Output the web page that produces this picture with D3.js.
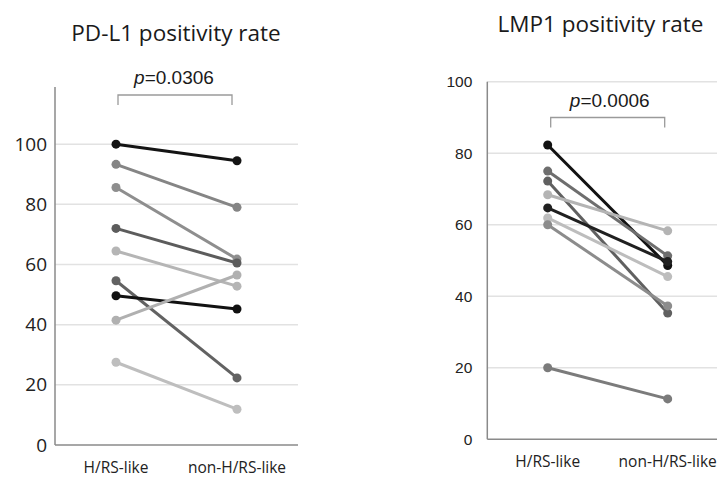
<!DOCTYPE html>
<html>
<head>
<meta charset="utf-8">
<script src="https://cdn.jsdelivr.net/npm/d3@7"></script>
<style>
  body { margin: 0; background: #fff; }
  svg { display: block; }
</style>
</head>
<body>
<div id="chart"></div>
<script>
// categories on the x axis
var groups = ["H/RS-like", "non-H/RS-like"];

// PD-L1 positivity rate (%), one pair per case
var pdl1HRS    = [100, 93.3, 85.6, 72.0, 64.5, 54.6, 49.6, 41.5, 27.5];
var pdl1NonHRS = [94.5, 79.0, 61.8, 60.5, 52.8, 22.3, 45.2, 56.5, 11.9];

// LMP1 positivity rate (%), one pair per case
var lmp1HRS    = [82.3, 75.0, 72.2, 68.4, 64.7, 61.9, 60.0, 20.0];
var lmp1NonHRS = [48.6, 51.3, 35.3, 58.3, 49.7, 45.5, 37.3, 11.3];

var pdl1Ticks = [0, 20, 40, 60, 80, 100];
var lmp1Ticks = [0, 20, 40, 60, 80, 100];

var pdl1Title = "PD-L1 positivity rate", pdl1P = "0.0306";
var lmp1Title = "LMP1 positivity rate",  lmp1P = "0.0006";

// grey shade of each case line (style only)
var pdl1Shades = ["#141414", "#858585", "#8e8e8e", "#5c5c5c", "#b5b5b5", "#626262", "#111111", "#b0b0b0", "#bebebe"];
var lmp1Shades = ["#121212", "#6e6e6e", "#606060", "#b4b4b4", "#202020", "#bdbdbd", "#8c8c8c", "#7b7b7b"];

var svg = d3.select("#chart").append("svg")
    .attr("width", 717)
    .attr("height", 477);

function drawPanel(opt){
    var g = svg.append("g");

    var x = d3.scalePoint().domain(groups).range(opt.xRange);
    var y = d3.scaleLinear().domain(opt.yDomain).range(opt.yRange);

    // grid lines
    g.selectAll("line.grid")
        .data(opt.ticks.filter(function(t){ return t > 0; }))
        .enter().append("line")
        .attr("class", "grid")
        .attr("x1", opt.left).attr("x2", opt.right)
        .attr("y1", function(d){ return y(d); })
        .attr("y2", function(d){ return y(d); })
        .attr("stroke", "#e2e2e2")
        .attr("stroke-width", 1.5);

    // y axis
    var yAxis = d3.axisLeft(y).tickValues(opt.ticks).tickSize(0).tickPadding(opt.tickPad);
    var yg = g.append("g")
        .attr("transform", "translate(" + opt.left + ",0)")
        .call(yAxis);
    yg.select(".domain").remove();
    yg.selectAll("text")
        .attr("font-family", opt.tickFont)
        .attr("font-size", opt.tickSize)
        .attr("fill", "#222");

    g.append("line")
        .attr("x1", opt.left).attr("x2", opt.left)
        .attr("y1", y(opt.yDomain[0])).attr("y2", y(opt.yDomain[1]))
        .attr("stroke", "#8a8a8a").attr("stroke-width", 1.5);
    g.append("line")
        .attr("x1", opt.left).attr("x2", opt.right)
        .attr("y1", y(0)).attr("y2", y(0))
        .attr("stroke", "#8a8a8a").attr("stroke-width", 1.5);

    // x labels
    g.selectAll("text.xlab")
        .data(groups)
        .enter().append("text")
        .attr("class", "xlab")
        .attr("x", function(d){ return x(d); })
        .attr("y", opt.xLabelY)
        .attr("text-anchor", "middle")
        .attr("font-family", "Open Sans, sans-serif")
        .attr("font-size", 15.5)
        .attr("fill", "#222")
        .text(function(d){ return d; });

    // paired lines
    var pairs = opt.first.map(function(v, i){ return { a: v, b: opt.second[i], c: opt.shades[i] }; });
    var series = g.selectAll("g.case")
        .data(pairs)
        .enter().append("g")
        .attr("class", "case");

    series.append("line")
        .attr("x1", x(groups[0])).attr("x2", x(groups[1]))
        .attr("y1", function(d){ return y(d.a); })
        .attr("y2", function(d){ return y(d.b); })
        .attr("stroke", function(d){ return d.c; })
        .attr("stroke-width", 3);

    series.selectAll("circle")
        .data(function(d){ return [{ k: groups[0], v: d.a, c: d.c }, { k: groups[1], v: d.b, c: d.c }]; })
        .enter().append("circle")
        .attr("cx", function(d){ return x(d.k); })
        .attr("cy", function(d){ return y(d.v); })
        .attr("r", 4.5)
        .attr("fill", function(d){ return d.c; });

    // significance bracket
    var bx1 = x(groups[0]) + opt.bracketInset[0],
        bx2 = x(groups[1]) + opt.bracketInset[1];
    g.append("path")
        .attr("d", "M" + bx1 + "," + (opt.bracketY + 10) + "V" + opt.bracketY +
                   "H" + bx2 + "V" + (opt.bracketY + 10))
        .attr("fill", "none")
        .attr("stroke", "#9a9a9a")
        .attr("stroke-width", 1.3);

    var pt = g.append("text")
        .attr("x", (bx1 + bx2) / 2 + opt.pShift)
        .attr("y", opt.pY)
        .attr("text-anchor", "middle")
        .attr("font-family", "Liberation Sans, Arial, sans-serif")
        .attr("font-size", 19)
        .attr("fill", "#1a1a1a");
    pt.append("tspan").attr("font-style", "italic").text("p");
    pt.append("tspan").text("=" + opt.p);

    // title
    g.append("text")
        .attr("x", opt.titleX)
        .attr("y", opt.titleY)
        .attr("text-anchor", "middle")
        .attr("font-family", "Open Sans, sans-serif")
        .attr("font-size", opt.titleSize)
        .attr("fill", "#1a1a1a")
        .text(opt.title);
}

drawPanel({
    first: pdl1HRS, second: pdl1NonHRS, shades: pdl1Shades, ticks: pdl1Ticks,
    title: pdl1Title, p: pdl1P,
    xRange: [116, 237], yDomain: [0, 119], yRange: [445, 87],
    left: 55, right: 298, tickPad: 8,
    tickFont: "Open Sans, sans-serif", tickSize: 19,
    xLabelY: 473, bracketY: 95, bracketInset: [2, -5], pY: 84, pShift: -1,
    titleX: 176, titleY: 41, titleSize: 22.5
});

drawPanel({
    first: lmp1HRS, second: lmp1NonHRS, shades: lmp1Shades, ticks: lmp1Ticks,
    title: lmp1Title, p: lmp1P,
    xRange: [547.7, 667.7], yDomain: [0, 100], yRange: [439.3, 81.7],
    left: 487.3, right: 717, tickPad: 15,
    tickFont: "Liberation Sans, Arial, sans-serif", tickSize: 15.5,
    xLabelY: 467, bracketY: 117.5, bracketInset: [3, -3], pY: 106.5, pShift: 2,
    titleX: 600.5, titleY: 32, titleSize: 22.5
});
</script>
</body>
</html>
